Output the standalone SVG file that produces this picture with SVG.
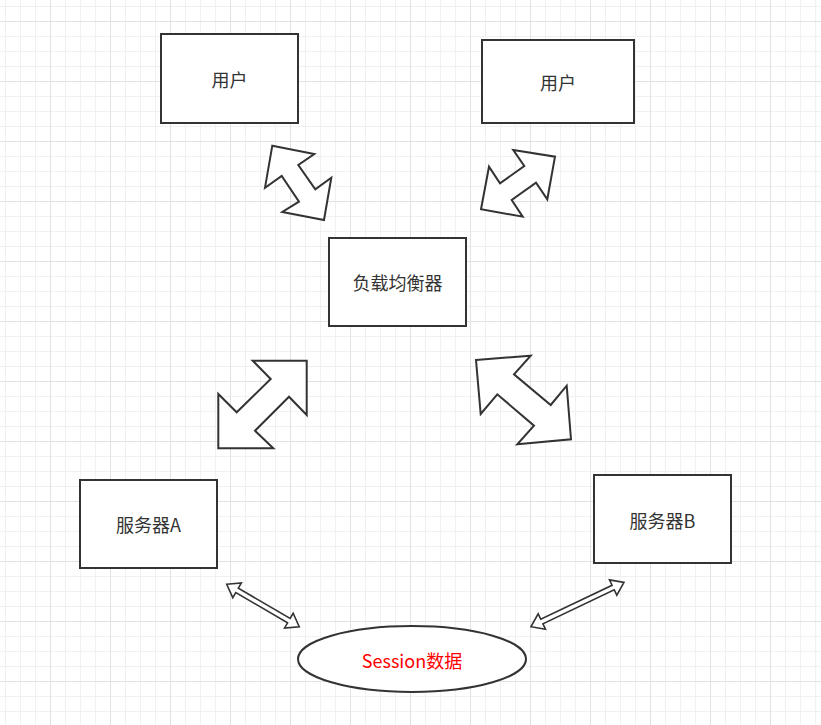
<svg xmlns="http://www.w3.org/2000/svg" width="821" height="725" viewBox="0 0 821 725">
<style>
.box{fill:#fff;stroke:#333;stroke-width:2}
.arr{fill:#fff;stroke:#333;stroke-width:2;stroke-linejoin:miter}
.sarr{fill:#fff;stroke:#333;stroke-width:1.6}
.t{font-family:"Microsoft YaHei","Noto Sans CJK SC","Liberation Sans",sans-serif;font-size:18px;fill:#333;text-anchor:middle;dominant-baseline:central}
.red{fill:#ff0000}
</style>
<defs>
<pattern id="grid" patternUnits="userSpaceOnUse" x="50" y="21" width="60" height="60">
<rect width="60" height="60" fill="#fff"/>
<rect x="15" y="0" width="1" height="60" fill="#f0f0f0"/>
<rect x="30" y="0" width="1" height="60" fill="#f0f0f0"/>
<rect x="45" y="0" width="1" height="60" fill="#f0f0f0"/>
<rect x="0" y="15" width="60" height="1" fill="#f0f0f0"/>
<rect x="0" y="30" width="60" height="1" fill="#f0f0f0"/>
<rect x="0" y="45" width="60" height="1" fill="#f0f0f0"/>
<rect x="0" y="0" width="1" height="60" fill="#e2e2e2"/>
<rect x="0" y="0" width="60" height="1" fill="#e2e2e2"/>
</pattern>
</defs>
<rect width="821" height="725" fill="url(#grid)"/>

<g id="connectors">
<polygon class="arr" points="272.3,145.7 314.3,154 298.3,165 315.3,189.3 331.3,177.7 324,220 282.3,212 299,201.7 281.7,176 265,187.7"/>
<polygon class="arr" points="513.3,150 555,156.7 547.3,199.3 536,182.7 511.7,200 522.7,216.7 481,209.3 489,166.7 500,183.3 524.3,166"/>
<polygon class="arr" points="252.7,360.7 306.7,360.7 306.7,415 289,396.7 255,430.7 273.3,448.3 218.3,448.3 218.3,394 236.7,412.3 270.7,379"/>
<polygon class="arr" points="476,360 530.7,355.7 514,374.3 550.7,405 566.7,385.7 571,439.3 517.3,444.3 534,425.7 497.3,394.3 480.7,414"/>
<g transform="translate(226.7,584.3) rotate(30.3)">
<polygon class="sarr" points="0,0 12,-8.5 12,-2.5 72,-2.5 72,-8.5 84,0 72,8.5 72,2.5 12,2.5 12,8.5"/>
</g>
<g transform="translate(531,626.7) rotate(-25.5)">
<polygon class="sarr" points="0,0 12,-8.5 12,-2.5 91,-2.5 91,-8.5 103,0 91,8.5 91,2.5 12,2.5 12,8.5"/>
</g>
</g>

<g id="user1"><rect class="box" x="161" y="34" width="137" height="89"/><text class="t" x="229.5" y="78.5">用户</text></g>
<g id="user2"><rect class="box" x="482" y="40" width="152" height="83"/><text class="t" x="558" y="81.5">用户</text></g>
<g id="lb"><rect class="box" x="329" y="238" width="137" height="88"/><text class="t" x="397.5" y="282">负载均衡器</text></g>
<g id="serverA"><rect class="box" x="80" y="480" width="137" height="88"/><text class="t" x="148.5" y="524">服务器A</text></g>
<g id="serverB"><rect class="box" x="594" y="475" width="137" height="88"/><text class="t" x="662.5" y="519.5">服务器B</text></g>
<g id="session"><ellipse class="box" cx="412" cy="659" rx="114" ry="33"/><text class="t red" x="412" y="659.5">Session数据</text></g>
</svg>
